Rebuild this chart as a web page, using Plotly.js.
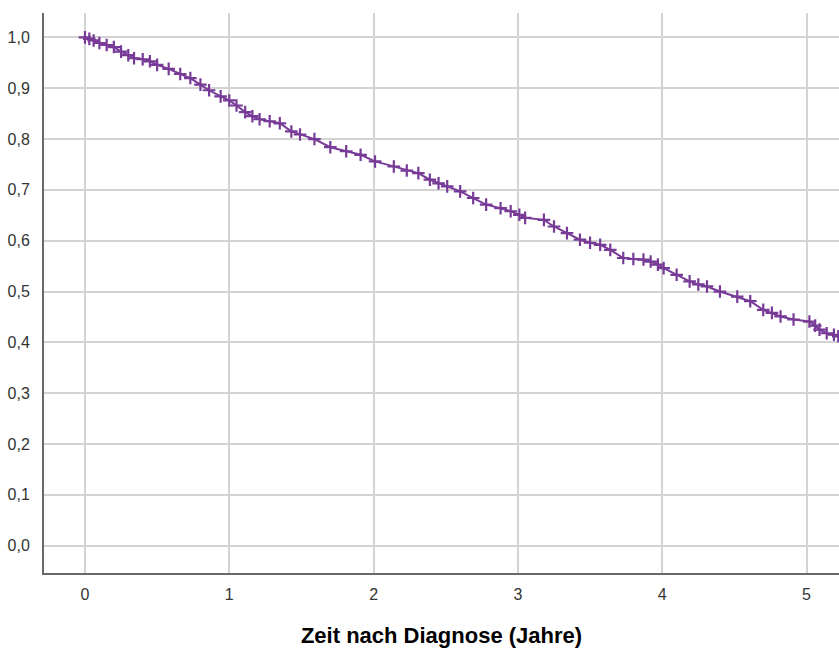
<!DOCTYPE html>
<html>
<head>
<meta charset="utf-8">
<script src="https://cdn.plot.ly/plotly-3.0.1.min.js"></script>
<style>html,body{margin:0;padding:0;background:#fff;}#chart{width:839px;height:648px;}</style>
</head>
<body>
<div id="chart"></div>
<script>
// Survival curve readings (time in years, cumulative survival)
const timeYears = [0.00,0.03,0.06,0.10,0.15,0.20,0.25,0.30,0.34,0.40,0.45,0.50,0.58,0.66,0.73,0.80,0.86,0.94,1.00,1.05,1.11,1.16,1.21,1.28,1.35,1.43,1.49,1.59,1.70,1.81,1.91,2.01,2.14,2.23,2.31,2.39,2.45,2.51,2.60,2.69,2.78,2.88,2.95,3.01,3.05,3.18,3.25,3.34,3.43,3.50,3.57,3.64,3.73,3.80,3.87,3.92,3.97,4.01,4.10,4.19,4.25,4.31,4.40,4.52,4.61,4.70,4.76,4.82,4.91,5.02,5.06,5.09,5.14,5.19,5.22];
const survival = [1.000,0.997,0.994,0.989,0.985,0.981,0.972,0.965,0.959,0.957,0.953,0.946,0.938,0.928,0.920,0.907,0.896,0.884,0.876,0.866,0.853,0.845,0.839,0.835,0.831,0.815,0.809,0.800,0.784,0.776,0.769,0.756,0.746,0.738,0.733,0.720,0.713,0.707,0.697,0.684,0.671,0.664,0.658,0.651,0.645,0.641,0.628,0.615,0.602,0.596,0.592,0.582,0.566,0.564,0.563,0.559,0.553,0.546,0.533,0.520,0.514,0.510,0.500,0.490,0.481,0.464,0.458,0.451,0.445,0.441,0.433,0.425,0.418,0.415,0.412];
const xTicks = [0,1,2,3,4,5];
const yTicks = [0,0.1,0.2,0.3,0.4,0.5,0.6,0.7,0.8,0.9,1.0];
const xTitle = "Zeit nach Diagnose (Jahre)";

const purple = '#773b97';
const trace = {
  x: timeYears, y: survival, type: 'scatter', mode: 'lines+markers',
  line: {color: purple, width: 2, shape: 'linear'},
  marker: {symbol: 'cross-thin', size: 9, line: {color: purple, width: 2.2}, color: purple},
  hoverinfo: 'skip', showlegend: false
};

const tickFont = {family: 'Liberation Sans, Arial, sans-serif', size: 16, color: '#333'};
const layout = {
  width: 839, height: 648,
  margin: {l: 44, r: 0, t: 13, b: 75, pad: 0},
  paper_bgcolor: '#fff', plot_bgcolor: '#fff',
  separators: ',.',
  showlegend: false,
  xaxis: {
    range: [-0.284, 5.225], tickvals: xTicks, ticktext: xTicks.map(String),
    showgrid: true, gridcolor: '#d3d3d3', gridwidth: 2, zeroline: false,
    showline: true, linecolor: '#6a6a6a', linewidth: 2, mirror: false,
    ticks: '', tickfont: tickFont, ticklabelstandoff: 6,
    title: {text: xTitle, font: {family: 'Liberation Sans, Arial, sans-serif', size: 22, color: '#000', weight: 'bold'}, standoff: 27}
  },
  yaxis: {
    range: [-0.0537, 1.048], tickvals: yTicks, tickformat: '.1f',
    showgrid: true, gridcolor: '#d3d3d3', gridwidth: 2, zeroline: false,
    showline: true, linecolor: '#6a6a6a', linewidth: 2,
    ticks: '', tickfont: tickFont, ticklabelstandoff: 9
  }
};
Plotly.newPlot('chart', [trace], layout, {displayModeBar: false, staticPlot: true});
</script>
</body>
</html>
